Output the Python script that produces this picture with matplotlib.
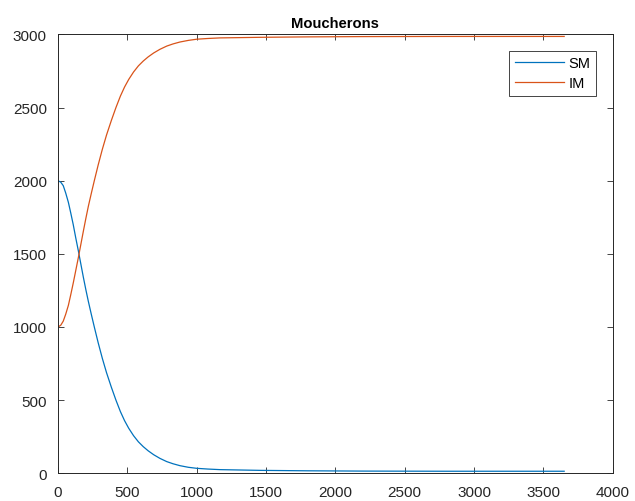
import matplotlib
matplotlib.use('Agg')
import matplotlib.pyplot as plt

# values (days, number of gnats)
sm_t = [0, 20, 38, 56, 75, 92, 110, 128, 147, 165, 183, 201, 219, 240, 262,
        290, 320, 350, 385, 418, 450, 480, 510, 545, 580, 615, 650, 690, 735,
        784, 830, 880, 940, 1000, 1080, 1168, 1457, 1800, 2200, 2800, 3650]
sm_v = [2000, 1990, 1966, 1915, 1852, 1780, 1700, 1610, 1520, 1430, 1340,
        1255, 1175, 1088, 1000, 892, 785, 688, 588, 500, 422, 360, 308, 257,
        215, 182, 154, 127, 102, 80, 65, 52, 41, 34, 29, 25, 20, 17, 15, 14,
        14]

im_t = [0, 20, 38, 56, 75, 92, 110, 128, 147, 165, 183, 201, 219, 240, 262,
        290, 320, 350, 385, 418, 450, 480, 510, 545, 580, 615, 650, 690, 735,
        784, 830, 880, 940, 1000, 1080, 1168, 1457, 1800, 2200, 2800, 3650]
im_v = [1000, 1012, 1040, 1088, 1148, 1220, 1300, 1385, 1475, 1565, 1655,
        1742, 1825, 1912, 2000, 2108, 2215, 2312, 2412, 2500, 2578, 2640,
        2692, 2743, 2785, 2818, 2846, 2873, 2898, 2920, 2935, 2948, 2959,
        2967, 2972, 2976, 2980, 2983, 2985, 2986, 2986]

plt.rcParams['font.family'] = ['Liberation Sans', 'DejaVu Sans']

fig = plt.figure(figsize=(6.35, 5.02), dpi=100)
ax = fig.add_axes([0.0913, 0.0552, 0.8736, 0.8743])

ax.plot(sm_t, sm_v, color='#0072BD', linewidth=0.9, label='SM')
ax.plot(im_t, im_v, color='#D95319', linewidth=0.9, label='IM')

ax.set_xlim(0, 4000)
ax.set_ylim(0, 3000)
ax.set_xticks(range(0, 4001, 500))
ax.set_yticks(range(0, 3001, 500))
ax.tick_params(direction='in', top=True, right=True, length=4, width=0.6,
               colors='#262626', labelsize=11)
ax.tick_params(axis='x', pad=8.5)
ax.tick_params(axis='y', pad=8)
for s in ax.spines.values():
    s.set_color('#262626')
    s.set_linewidth(0.7)

ax.set_title('Moucherons', fontsize=10.6, fontweight='bold', pad=5)

leg = ax.legend(loc='upper right', bbox_to_anchor=(0.9699, 0.9629),
                borderaxespad=0, fancybox=False, edgecolor='#262626',
                framealpha=1, handlelength=3.4, fontsize=10.5,
                borderpad=0.38, labelspacing=0.4, handletextpad=0.3)
leg.get_frame().set_linewidth(0.6)

fig.savefig('out.png', dpi=100)
